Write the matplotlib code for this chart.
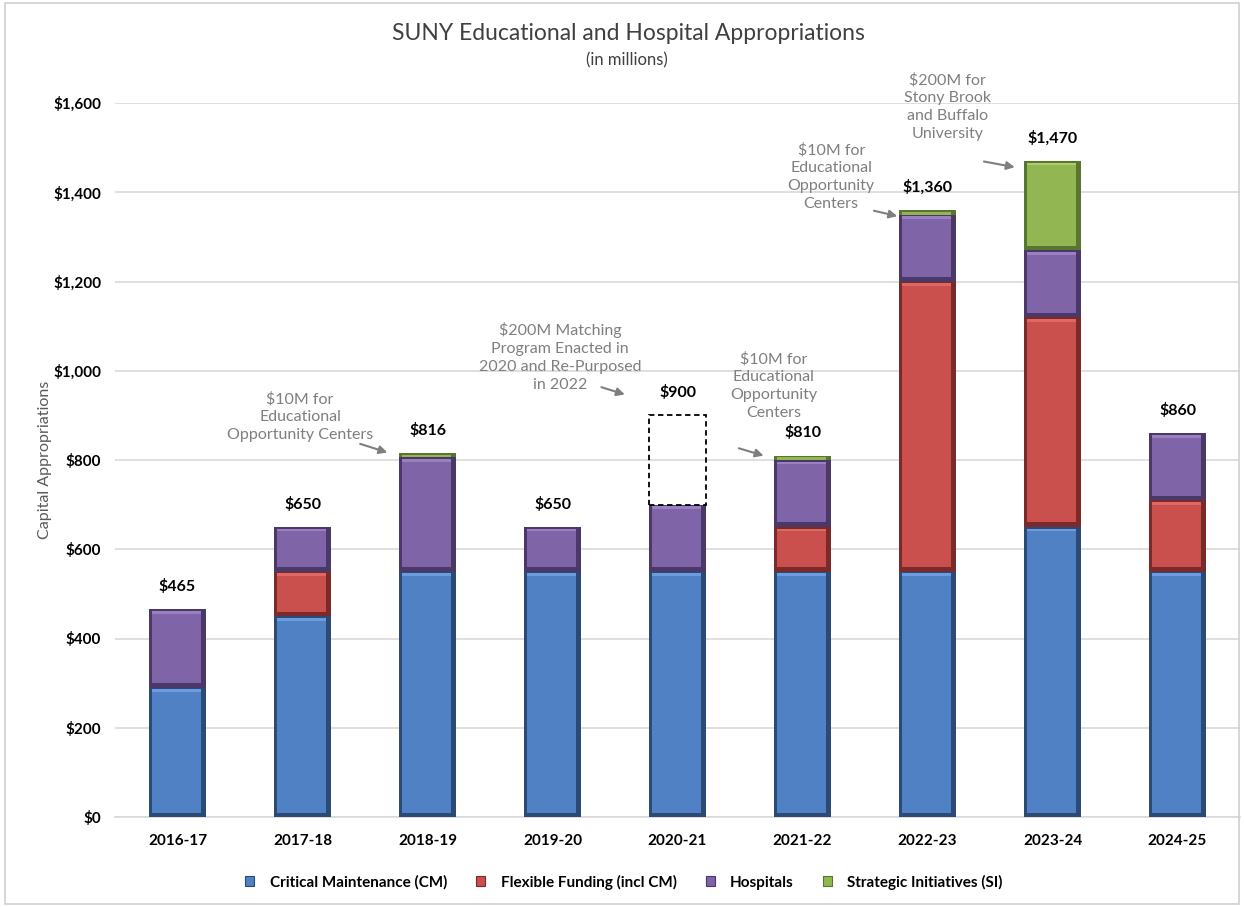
import matplotlib
matplotlib.use("Agg")
import matplotlib.pyplot as plt
from matplotlib.patches import Rectangle, Patch
import numpy as np

plt.rcParams['font.family'] = ['Lato', 'DejaVu Sans']

years = ["2016-17", "2017-18", "2018-19", "2019-20", "2020-21",
         "2021-22", "2022-23", "2023-24", "2024-25"]
critical_maintenance = [290, 450, 550, 550, 550, 550, 550, 650, 550]
flexible_funding = [0, 100, 0, 0, 0, 100, 650, 470, 160]
hospitals = [175, 100, 256, 100, 150, 150, 150, 150, 150]
strategic_initiatives = [0, 0, 10, 0, 0, 10, 10, 200, 0]
totals = [465, 650, 816, 650, 900, 810, 1360, 1470, 860]
matching_program = [0, 0, 0, 0, 200, 0, 0, 0, 0]  # dashed placeholder

series = [
    ("Critical Maintenance (CM)", critical_maintenance, "#4F81C4", "#2B4A75", "#6C9BE0"),
    ("Flexible Funding (incl CM)", flexible_funding, "#C9504C", "#7A2A28", "#E06862"),
    ("Hospitals", hospitals, "#8064A8", "#4A3868", "#9A80C0"),
    ("Strategic Initiatives (SI)", strategic_initiatives, "#92B752", "#5A7530", "#AED06A"),
]

fig = plt.figure(figsize=(12.44, 9.07), dpi=100)
ax = fig.add_axes([115 / 1244, 1 - 817 / 907, 1125 / 1244, 714 / 907])

x = np.arange(len(years))
width = 0.46
bottom = np.zeros(len(years))
handles = []
for name, vals, col, dark, light in series:
    vals = np.array(vals, dtype=float)
    ax.bar(x, vals, width, bottom=bottom, color=dark, edgecolor="none", zorder=3)
    inner_h = np.where(vals > 12, vals - 14, vals * 0.6)
    ax.bar(x - 0.01, inner_h, width * 0.86, bottom=bottom + np.where(vals > 12, 10, 0),
           color=col, edgecolor="none", zorder=4)
    hl = np.where(vals > 30, 6, 0)
    ax.bar(x - 0.01, hl, width * 0.86, bottom=bottom + vals - np.where(vals > 12, 4, 0) - hl,
           color=light, edgecolor="none", zorder=5)
    handles.append(Patch(facecolor=col, edgecolor=dark, linewidth=0.8, label=name))
    bottom += vals

# dashed placeholder for matching program
mp = np.array(matching_program, dtype=float)
sel = mp > 0
ax.bar(x[sel], mp[sel], width, bottom=bottom[sel], fill=False, edgecolor="black",
       linestyle=(0, (3, 2)), linewidth=1.3, zorder=5)

for xi, t in zip(x, totals):
    ax.annotate(f"${t:,}", (xi, t), xytext=(0, 11), textcoords="offset points",
                ha="center", va="bottom", fontsize=11.5, fontweight="bold", color="black")

ax.set_xlim(-0.5, len(years) - 0.5)
ax.set_ylim(0, 1600)
ax.set_yticks(np.arange(0, 1601, 200))
ax.set_yticklabels([f"${v:,}" for v in range(0, 1601, 200)], fontsize=11, fontweight="bold")
ax.set_xticks(x)
ax.set_xticklabels(years, fontsize=11, fontweight="bold")
ax.tick_params(axis="y", length=0, pad=10)
ax.tick_params(axis="x", length=0, pad=12)
ax.yaxis.grid(True, color="#D9D9D9", linewidth=1.2, zorder=0)
ax.set_axisbelow(True)
for s in ["top", "right", "left"]:
    ax.spines[s].set_visible(False)
ax.spines["bottom"].set_color("#D9D9D9")
ax.spines["bottom"].set_linewidth(1.2)
ax.set_ylabel("Capital Appropriations", fontsize=11.5, color="#595959", labelpad=1)

gray = "#7F7F7F"
notes = [
    ("$10M for\nEducational\nOpportunity Centers", (0.98, 897)),
    ("$200M Matching\nProgram Enacted in\n2020 and Re-Purposed\nin 2022", (3.06, 1031)),
    ("$10M for\nEducational\nOpportunity\nCenters", (4.77, 966)),
    ("$10M for\nEducational\nOpportunity\nCenters", (5.23, 1435)),
    ("$200M for\nStony Brook\nand Buffalo\nUniversity", (6.16, 1592)),
]
arrows = [
    ((1.44, 838), (1.7, 815)),
    ((3.37, 965), (3.6, 945)),
    ((4.47, 828), (4.71, 808)),
    ((5.55, 1360), (5.78, 1345)),
    ((6.43, 1470), (6.72, 1455)),
]
for (txt, tpos), (a0, a1) in zip(notes, arrows):
    ax.text(tpos[0], tpos[1], txt, ha="center", va="center", fontsize=11.5,
            color=gray, linespacing=1.35, clip_on=False, zorder=6)
    ax.annotate("", xy=a1, xytext=a0,
                arrowprops=dict(arrowstyle="-|>", color=gray, lw=1.5,
                                mutation_scale=12), zorder=6, annotation_clip=False)

fig.text(628 / 1244, 1 - 34 / 907, "SUNY Educational and Hospital Appropriations",
         ha="center", va="center", fontsize=16.5, color="#404040")
fig.text(627 / 1244, 1 - 60 / 907, "(in millions)", ha="center", va="center",
         fontsize=12, color="#404040")

ax.legend(handles=handles, loc="center",
          bbox_to_anchor=((624 - 115) / 1125, (1 - 882 / 907 - (1 - 817 / 907)) / (714 / 907)),
          ncol=4, frameon=False, handlelength=0.6, handleheight=0.6,
          columnspacing=1.9, handletextpad=1.0, prop={"weight": "bold", "size": 11})

fig.patches.append(Rectangle((5 / 1244, 3 / 907), 1234 / 1244, 901 / 907, transform=fig.transFigure,
                             fill=False, edgecolor="#D0D0D0", linewidth=1.2))

fig.savefig("out.png", dpi=100)
